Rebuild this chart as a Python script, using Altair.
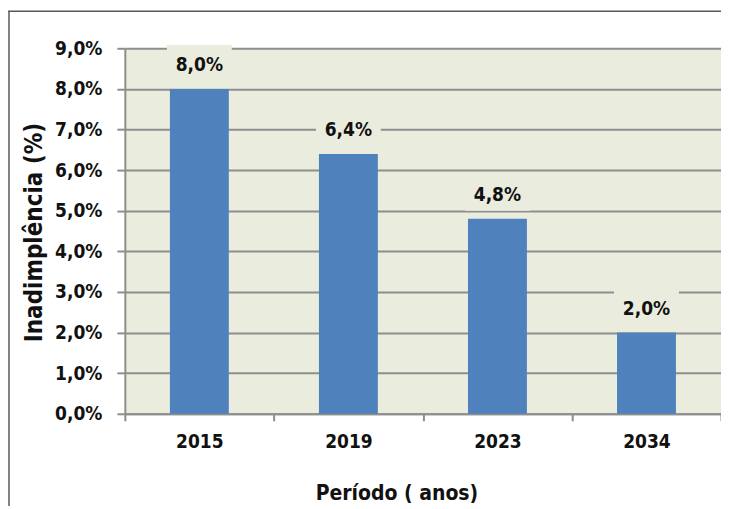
import altair as alt
import pandas as pd

# Data
periods = ["2015", "2019", "2023", "2034"]
values = [8.0, 6.4, 4.8, 2.0]
value_labels = ["8,0%", "6,4%", "4,8%", "2,0%"]
y_ticks = [0, 1, 2, 3, 4, 5, 6, 7, 8, 9]

df = pd.DataFrame({"periodo": periods, "valor": values, "rotulo": value_labels})

FONT = "DejaVu Sans Condensed"
BG = "#EAEDDE"
BAR = "#4F81BD"
GRID = "#8E8E8E"
INK = "#111111"

W, H = 597, 366

x_enc = alt.X(
    "periodo:N",
    sort=periods,
    scale=alt.Scale(paddingInner=0, paddingOuter=0),
    axis=alt.Axis(
        title="Período ( anos)",
        labelAngle=0,
        tickBand="extent",
        tickSize=7,
        tickWidth=2,
        tickColor=GRID,
        domainColor=GRID,
        domainWidth=2,
        labelPadding=12,
        labelFontSize=19,
        titleFontSize=21,
        titleX=272,
        titleY=86,
        titleAlign="center",
        titleBaseline="alphabetic",
        labelFont=FONT,
        titleFont=FONT,
        labelFontWeight="bold",
        titleFontWeight="bold",
        labelColor=INK,
        titleColor=INK,
        grid=False,
    ),
)

y_enc = alt.Y(
    "valor:Q",
    scale=alt.Scale(domain=[0, 9], nice=False, zero=True),
    axis=alt.Axis(
        title="Inadimplência (%)",
        values=y_ticks,
        labelExpr="replace(format(datum.value, '.1f'), '.', ',') + '%'",
        tickSize=8,
        tickWidth=2,
        tickColor=GRID,
        domainColor=GRID,
        domainWidth=2,
        grid=True,
        gridColor=GRID,
        gridWidth=2,
        labelPadding=15,
        labelFontSize=19,
        titleFontSize=24,
        titleAngle=270,
        titleX=-83,
        titleY=184,
        titleAlign="center",
        titleBaseline="alphabetic",
        labelFont=FONT,
        titleFont=FONT,
        labelFontWeight="bold",
        titleFontWeight="bold",
        labelColor=INK,
        titleColor=INK,
    ),
)

base = alt.Chart(df)

bars = base.mark_bar(width=59, color=BAR).encode(x=x_enc, y=y_enc)

boxes = base.transform_calculate(
    lo="datum.valor + 0.197", hi="datum.valor + 1.082"
).mark_bar(width=65, color=BG).encode(
    x=x_enc,
    y=alt.Y("lo:Q"),
    y2="hi:Q",
)

text = base.mark_text(
    dy=-18, baseline="alphabetic", font=FONT, fontSize=19, fontWeight="bold", color=INK
).encode(x=x_enc, y=y_enc, text="rotulo:N")

frame_df = pd.DataFrame({"k": [0]})
top_line = alt.Chart(frame_df).mark_rule(color="#5A5A5A", strokeWidth=1.5).encode(
    x=alt.value(-117), x2=alt.value(W + 20), y=alt.value(-37)
)
left_line = alt.Chart(frame_df).mark_rule(color="#5A5A5A", strokeWidth=1.5).encode(
    x=alt.value(-116), y=alt.value(-37), y2=alt.value(H + 100)
)

chart = alt.layer(bars, boxes, text, top_line, left_line).properties(
    width=W,
    height=H,
    padding={"left": 117, "top": 40, "right": 0, "bottom": 92},
    autosize=alt.AutoSizeParams(type="none"),
    background="white",
    view=alt.ViewBackground(fill=BG, stroke=None),
).configure_view(fill=BG, stroke=None)

chart.save("out.html", embed_options={"renderer": "svg", "actions": False})
